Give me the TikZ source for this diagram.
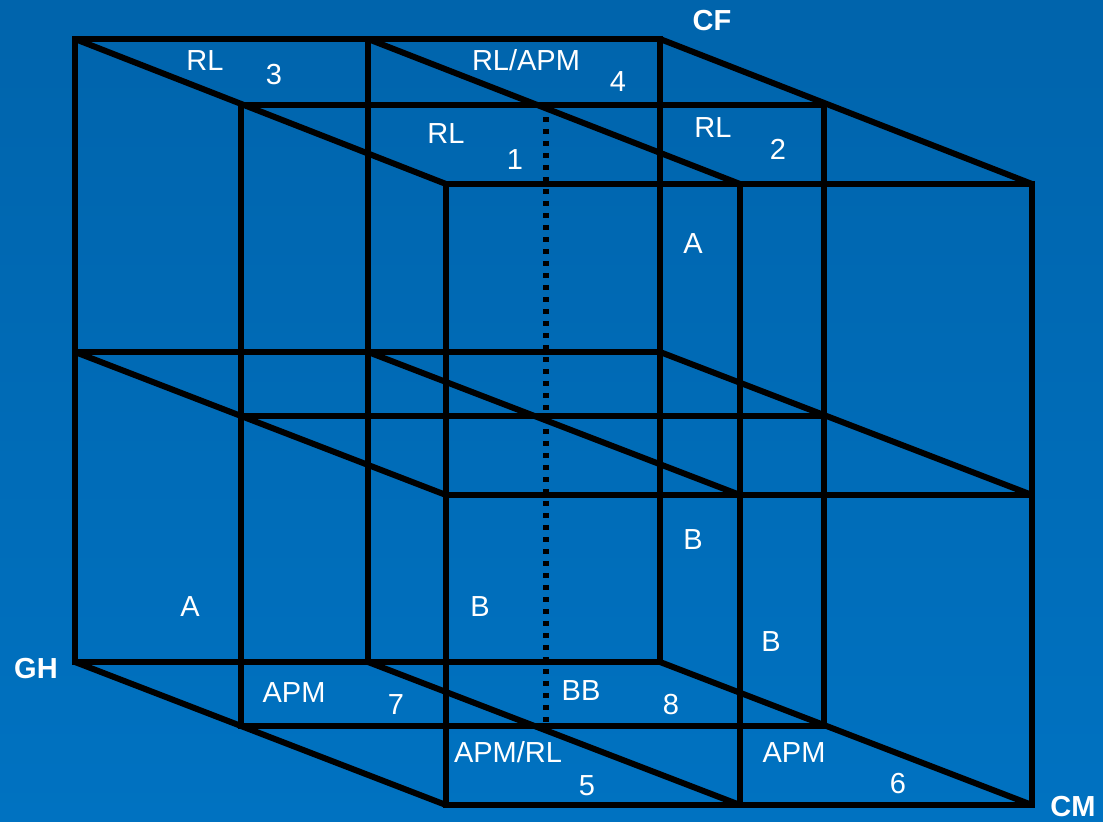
\documentclass[tikz,border=0pt]{standalone}
\usepackage{fontspec}
\setmainfont{Liberation Sans}
\usepackage{tikz}
\usetikzlibrary{calc}

\definecolor{bgtop}{RGB}{0,100,172}
\definecolor{bgbot}{RGB}{0,114,193}

\begin{document}
\begin{tikzpicture}[
    x=0.5pt, y=-0.5pt,
    every node/.style={font=\fontsize{14.5}{17}\selectfont, text=white, inner sep=0pt, text height=10.4pt, text depth=0pt},
    edge/.style={draw=black, line width=3pt},
    hidden/.style={draw=black, line width=2.7pt, dash pattern=on 2.75pt off 3.25pt},
    axislbl/.style={font=\fontsize{14.5}{17}\selectfont\bfseries}
]
\shade[top color=bgtop, bottom color=bgbot] (0,0) rectangle (1103,822);
\useasboundingbox (0,0) rectangle (1103,822);

% back face
\coordinate (bTL) at (75,39);
\coordinate (bTM) at (368,39);
\coordinate (bTR) at (660,39);
\coordinate (bML) at (75,352);
\coordinate (bMM) at (368,352);
\coordinate (bMR) at (660,352);
\coordinate (bBL) at (75,662);
\coordinate (bBM) at (368,662);
\coordinate (bBR) at (660,662);
% middle layer
\coordinate (mTL) at (241,105);
\coordinate (mTM) at (546,105);
\coordinate (mTR) at (824,105);
\coordinate (mML) at (241,416);
\coordinate (mMR) at (824,416);
\coordinate (mBL) at (241,726);
\coordinate (mBM) at (546,726);
\coordinate (mBR) at (824,726);
% front face
\coordinate (fTL) at (446,184);
\coordinate (fTM) at (740,184);
\coordinate (fTR) at (1032,184);
\coordinate (fML) at (446,495);
\coordinate (fMM) at (740,495);
\coordinate (fMR) at (1032,495);
\coordinate (fBL) at (446,805);
\coordinate (fBM) at (740,805);
\coordinate (fBR) at (1032,805);

\draw[edge] (bTL) -- (bTR) -- (bBR) -- (bBL) -- cycle;
\draw[edge] (bTM) -- (bBM);
\draw[edge] (bML) -- (bMR);

\draw[edge] (mTL) -- (mTR) -- (mBR) -- (mBL) -- cycle;
\draw[edge] (mML) -- (mMR);
\draw[hidden] (mTM) -- (mBM);

\draw[edge] (fTL) -- (fTR) -- (fBR) -- (fBL) -- cycle;
\draw[edge] (fTM) -- (fBM);
\draw[edge] (fML) -- (fMR);

\draw[edge] (bTL) -- (fTL);
\draw[edge] (bTM) -- (fTM);
\draw[edge] (bTR) -- (fTR);
\draw[edge] (bML) -- (fML);
\draw[edge] (bMM) -- (fMM);
\draw[edge] (bMR) -- (fMR);
\draw[edge] (bBL) -- (fBL);
\draw[edge] (bBM) -- (fBM);
\draw[edge] (bBR) -- (fBR);

% axis labels
\node[axislbl] (cf) at (712,20)  {CF};
\node[axislbl] (gh) at (36,668)  {GH};
\node[axislbl] (cm) at (1073,806) {CM};

% top layer
\node (rl3)   at (205,60)  {RL};
\node (n3)    at (274,74)  {3};
\node (rlapm) at (526,60)  {RL/APM};
\node (n4)    at (618,81)  {4};
\node (rl1)   at (446,133) {RL};
\node (n1)    at (515,159) {1};
\node (rl2)   at (713,127) {RL};
\node (n2)    at (778,149) {2};
\node (a1)    at (693,243) {A};
\node (b1)    at (693,539) {B};
\node (a2)    at (190,606) {A};
\node (b2)    at (480,606) {B};
\node (b3)    at (771,641) {B};

% bottom layer
\node (apm7)  at (294,692) {APM};
\node (n7)    at (396,704) {7};
\node (bb8)   at (581,690) {BB};
\node (n8)    at (671,704) {8};
\node (apmrl) at (508,752) {APM/RL};
\node (n5)    at (587,785) {5};
\node (apm6)  at (794,752) {APM};
\node (n6)    at (898,783) {6};
\end{tikzpicture}
\end{document}
